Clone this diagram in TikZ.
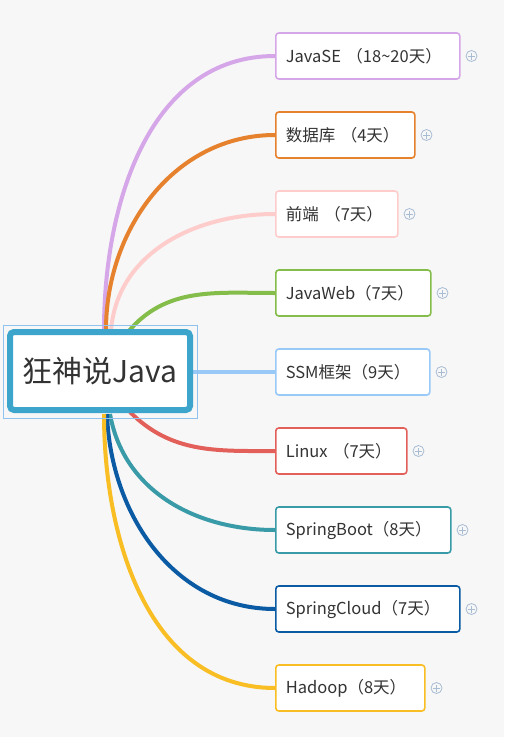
\documentclass[tikz,border=0pt]{standalone}
\usepackage{fontspec}
\setmainfont{Noto Sans CJK SC}
\usetikzlibrary{backgrounds}
\definecolor{bgc}{HTML}{F7F7F7}
\definecolor{txt}{HTML}{333333}
\definecolor{cpurple}{HTML}{D5A6E8}
\definecolor{corange}{HTML}{E6812D}
\definecolor{cpink}{HTML}{FFCCCC}
\definecolor{cgreen}{HTML}{84BD4A}
\definecolor{clblue}{HTML}{99C9F7}
\definecolor{cred}{HTML}{E3605A}
\definecolor{cteal}{HTML}{3A9BA8}
\definecolor{cdblue}{HTML}{0B5BA4}
\definecolor{cyellow}{HTML}{F8BE23}
\definecolor{croot}{HTML}{3DA5CB}
\definecolor{csel}{HTML}{8FC2EE}
\definecolor{cplus}{HTML}{A8BCD4}
\begin{document}
\begin{tikzpicture}[x=1pt,y=-1pt,
  topic/.style 2 args={draw=#1, line width=1.6pt, fill=white, rounded corners=3pt,
    anchor=west, minimum height=46pt, inner xsep=10pt, inner ysep=0pt,
    text width=#2pt-20pt, align=left,
    font=\fontsize{16.5}{19}\selectfont, text=txt},
  branch/.style={draw=#1, line width=4pt},
  plusmark/.style={draw=cplus, circle, line width=0.8pt, minimum size=11pt, inner sep=0pt,
    path picture={\draw[cplus, line width=0.8pt]
      (path picture bounding box.center) ++(-3.5pt,0) -- ++(7pt,0)
      (path picture bounding box.center) ++(0,-3.5pt) -- ++(0,7pt);}}
]
\node[draw=croot, line width=6pt, fill=white, rounded corners=4pt,
  minimum width=180pt, minimum height=78pt, inner sep=0pt,
  font=\fontsize{30}{34}\selectfont, text=txt] (root) at (100,371) {狂神说Java};

\node[topic={cpurple}{184}] (n1) at (275,56) {JavaSE （18\textasciitilde 20天）};
\node[topic={corange}{139}] (n2) at (275,135) {数据库 （4天）};
\node[topic={cpink}{122}]   (n3) at (275,214) {前端 （7天）};
\node[topic={cgreen}{155}]  (n4) at (275,293) {JavaWeb（7天）};
\node[topic={clblue}{154}]  (n5) at (275,372) {SSM框架（9天）};
\node[topic={cred}{131}]    (n6) at (275,451) {Linux （7天）};
\node[topic={cteal}{175}]   (n7) at (275,530) {SpringBoot（8天）};
\node[topic={cdblue}{184}]  (n8) at (275,609) {SpringCloud（7天）};
\node[topic={cyellow}{149}] (n9) at (275,688) {Hadoop（8天）};

\foreach \i in {1,...,9}{
  \node[plusmark, anchor=west] (p\i) at ([xshift=5pt]n\i.east) {};
}

\begin{pgfonlayer}{background}
\fill[bgc] (0,0) rectangle (504,737);
\coordinate (s1) at (104,330);
\coordinate (s2) at (106,330);
\coordinate (s3) at (111,330);
\coordinate (s4) at (128,332);
\coordinate (s5) at (190,372);
\coordinate (s6) at (130,412);
\coordinate (s7) at (110,414);
\coordinate (s8) at (107,414);
\coordinate (s9) at (104,414);
\draw[branch=cpurple] (s1) to[out=90,in=180] (n1.west);
\draw[branch=corange] (s2) to[out=90,in=180] (n2.west);
\draw[branch=cpink]   (s3) to[out=85,in=180] (n3.west);
\draw[branch=cgreen]  (s4) to[out=50,in=180] (n4.west);
\draw[branch=clblue]  (s5) -- (n5.west);
\draw[branch=cred]    (s6) to[out=-45,in=180] (n6.west);
\draw[branch=cteal]   (s7) to[out=-80,in=180] (n7.west);
\draw[branch=cdblue]  (s8) to[out=-88,in=180] (n8.west);
\draw[branch=cyellow] (s9) to[out=-90,in=180] (n9.west);
\end{pgfonlayer}
\draw[csel, line width=1pt] (3,325) rectangle (197,418);
\end{tikzpicture}
\end{document}
